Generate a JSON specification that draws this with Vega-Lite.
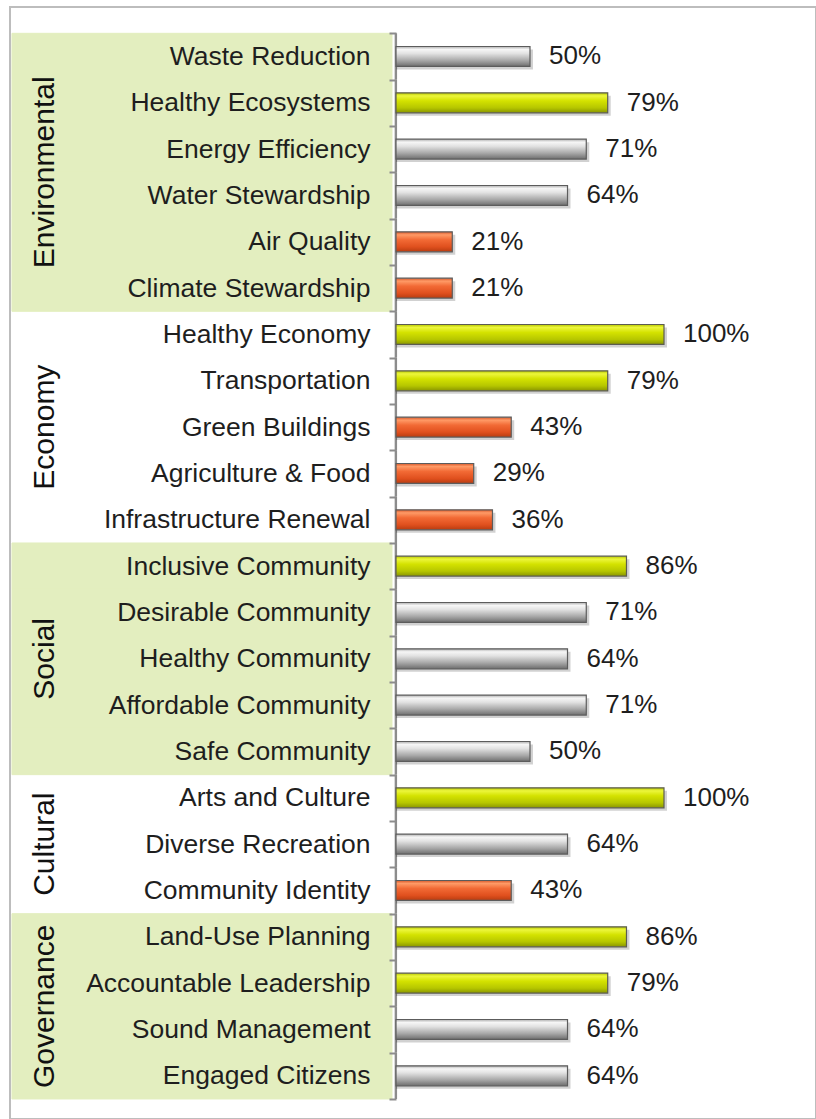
{
  "$schema": "https://vega.github.io/schema/vega-lite/v6.json",
  "width": 806,
  "height": 1112,
  "padding": {"left": 10, "top": 7, "right": 0, "bottom": 0},
  "autosize": {"type": "none"},
  "background": "white",
  "config": {
    "view": {"stroke": "#bdbdbd", "strokeWidth": 2},
    "font": "Liberation Sans"
  },
  "data": {
    "values": [
      {"group": "Environmental", "item": "Waste Reduction", "value": 0.50, "level": "mid"},
      {"group": "Environmental", "item": "Healthy Ecosystems", "value": 0.79, "level": "high"},
      {"group": "Environmental", "item": "Energy Efficiency", "value": 0.71, "level": "mid"},
      {"group": "Environmental", "item": "Water Stewardship", "value": 0.64, "level": "mid"},
      {"group": "Environmental", "item": "Air Quality\u00a0", "value": 0.21, "level": "low"},
      {"group": "Environmental", "item": "Climate Stewardship", "value": 0.21, "level": "low"},
      {"group": "Economy", "item": "Healthy Economy\u00a0", "value": 1.00, "level": "high"},
      {"group": "Economy", "item": "Transportation", "value": 0.79, "level": "high"},
      {"group": "Economy", "item": "Green Buildings", "value": 0.43, "level": "low"},
      {"group": "Economy", "item": "Agriculture & Food", "value": 0.29, "level": "low"},
      {"group": "Economy", "item": "Infrastructure Renewal", "value": 0.36, "level": "low"},
      {"group": "Social", "item": "Inclusive Community", "value": 0.86, "level": "high"},
      {"group": "Social", "item": "Desirable Community", "value": 0.71, "level": "mid"},
      {"group": "Social", "item": "Healthy Community", "value": 0.64, "level": "mid"},
      {"group": "Social", "item": "Affordable Community", "value": 0.71, "level": "mid"},
      {"group": "Social", "item": "Safe Community", "value": 0.50, "level": "mid"},
      {"group": "Cultural", "item": "Arts and Culture", "value": 1.00, "level": "high"},
      {"group": "Cultural", "item": "Diverse Recreation", "value": 0.64, "level": "mid"},
      {"group": "Cultural", "item": "Community Identity", "value": 0.43, "level": "low"},
      {"group": "Governance", "item": "Land-Use Planning", "value": 0.86, "level": "high"},
      {"group": "Governance", "item": "Accountable Leadership", "value": 0.79, "level": "high"},
      {"group": "Governance", "item": "Sound Management\u00a0", "value": 0.64, "level": "mid"},
      {"group": "Governance", "item": "Engaged Citizens", "value": 0.64, "level": "mid"}
    ]
  },
  "layer": [
    {
      "transform": [{"filter": {"field": "group", "oneOf": ["Environmental", "Social", "Governance"]}}],
      "mark": {"type": "bar", "fill": "#e3eebf", "stroke": "#e3eebf", "strokeWidth": 1},
      "encoding": {
        "y": {
          "field": "item", "type": "nominal",
          "scale": {
            "domain": ["Waste Reduction", "Healthy Ecosystems", "Energy Efficiency", "Water Stewardship", "Air Quality\u00a0", "Climate Stewardship", "Healthy Economy\u00a0", "Transportation", "Green Buildings", "Agriculture & Food", "Infrastructure Renewal", "Inclusive Community", "Desirable Community", "Healthy Community", "Affordable Community", "Safe Community", "Arts and Culture", "Diverse Recreation", "Community Identity", "Land-Use Planning", "Accountable Leadership", "Sound Management\u00a0", "Engaged Citizens"],
            "paddingInner": 0, "paddingOuter": 0.5, "align": 0.568
          },
          "axis": {
            "offset": -386, "domain": false, "ticks": true, "tickBand": "extent",
            "tickSize": 7, "tickWidth": 2, "tickColor": "#8c8c8c", "zindex": 2,
            "labelFont": "Liberation Sans", "labelFontSize": 26.5, "labelColor": "#1e1e1e",
            "labelPadding": 19, "labelLimit": 400, "grid": false, "title": null
          }
        },
        "x": {"datum": -1.433, "type": "quantitative", "scale": {"domain": [-1.4403, 1.5672], "nice": false, "zero": false}, "axis": null},
        "x2": {"datum": -0.015}
      }
    },
    {
      "mark": {"type": "bar", "fill": "#8c8c8c"},
      "encoding": {
        "y": {"field": "item", "type": "nominal"},
        "x": {"datum": -0.005, "type": "quantitative"},
        "x2": {"datum": 0.004}
      }
    },
    {
      "mark": {"type": "bar", "height": {"band": 0.43}, "fill": "#000000", "opacity": 0.18, "xOffset": 3, "yOffset": 3},
      "encoding": {
        "y": {"field": "item", "type": "nominal"},
        "x": {"field": "value", "type": "quantitative"},
        "x2": {"datum": 0}
      }
    },
    {
      "transform": [{"filter": "datum.level == 'mid'"}],
      "mark": {
        "type": "bar", "height": {"band": 0.43}, "stroke": "#5c5c5c", "strokeWidth": 1.2,
        "fill": {"gradient": "linear", "x1": 0, "y1": 0, "x2": 0, "y2": 1, "stops": [
          {"offset": 0, "color": "#b0b0b0"}, {"offset": 0.15, "color": "#f6f6f6"}, {"offset": 0.35, "color": "#e2e2e2"},
          {"offset": 0.7, "color": "#a8a8a8"}, {"offset": 1, "color": "#6e6e6e"}]}
      },
      "encoding": {
        "y": {"field": "item", "type": "nominal"},
        "x": {"field": "value", "type": "quantitative"},
        "x2": {"datum": 0}
      }
    },
    {
      "transform": [{"filter": "datum.level == 'high'"}],
      "mark": {
        "type": "bar", "height": {"band": 0.43}, "stroke": "#5c5c50", "strokeWidth": 1.2,
        "fill": {"gradient": "linear", "x1": 0, "y1": 0, "x2": 0, "y2": 1, "stops": [
          {"offset": 0, "color": "#b8c800"}, {"offset": 0.15, "color": "#ecf63c"}, {"offset": 0.4, "color": "#d4e200"},
          {"offset": 0.75, "color": "#b6c600"}, {"offset": 1, "color": "#8a9600"}]}
      },
      "encoding": {
        "y": {"field": "item", "type": "nominal"},
        "x": {"field": "value", "type": "quantitative"},
        "x2": {"datum": 0}
      }
    },
    {
      "transform": [{"filter": "datum.level == 'low'"}],
      "mark": {
        "type": "bar", "height": {"band": 0.43}, "stroke": "#5c5c5c", "strokeWidth": 1.2,
        "fill": {"gradient": "linear", "x1": 0, "y1": 0, "x2": 0, "y2": 1, "stops": [
          {"offset": 0, "color": "#d85a2c"}, {"offset": 0.15, "color": "#ff9a66"}, {"offset": 0.4, "color": "#f26a35"},
          {"offset": 0.75, "color": "#e0501e"}, {"offset": 1, "color": "#b83c10"}]}
      },
      "encoding": {
        "y": {"field": "item", "type": "nominal"},
        "x": {"field": "value", "type": "quantitative"},
        "x2": {"datum": 0}
      }
    },
    {
      "mark": {"type": "text", "align": "left", "baseline": "middle", "dx": 19, "fontSize": 26, "font": "Liberation Sans", "color": "#1e1e1e"},
      "encoding": {
        "y": {"field": "item", "type": "nominal"},
        "x": {"field": "value", "type": "quantitative"},
        "text": {"field": "value", "type": "quantitative", "format": ".0%"}
      }
    },
    {
      "data": {"values": [
        {"group": "Environmental", "item": "Energy Efficiency"},
        {"group": "Governance", "item": "Accountable Leadership"}
      ]},
      "mark": {"type": "text", "angle": 270, "align": "center", "baseline": "middle", "fontSize": 30, "font": "Liberation Sans", "color": "#111111"},
      "encoding": {
        "y": {"field": "item", "type": "nominal", "bandPosition": 1},
        "x": {"datum": -1.31, "type": "quantitative"},
        "text": {"field": "group", "type": "nominal"}
      }
    },
    {
      "data": {"values": [
        {"group": "Economy", "item": "Green Buildings"},
        {"group": "Social", "item": "Healthy Community"},
        {"group": "Cultural", "item": "Diverse Recreation"}
      ]},
      "mark": {"type": "text", "angle": 270, "align": "center", "baseline": "middle", "fontSize": 30, "font": "Liberation Sans", "color": "#111111"},
      "encoding": {
        "y": {"field": "item", "type": "nominal", "bandPosition": 0.5},
        "x": {"datum": -1.31, "type": "quantitative"},
        "text": {"field": "group", "type": "nominal"}
      }
    }
  ]
}
